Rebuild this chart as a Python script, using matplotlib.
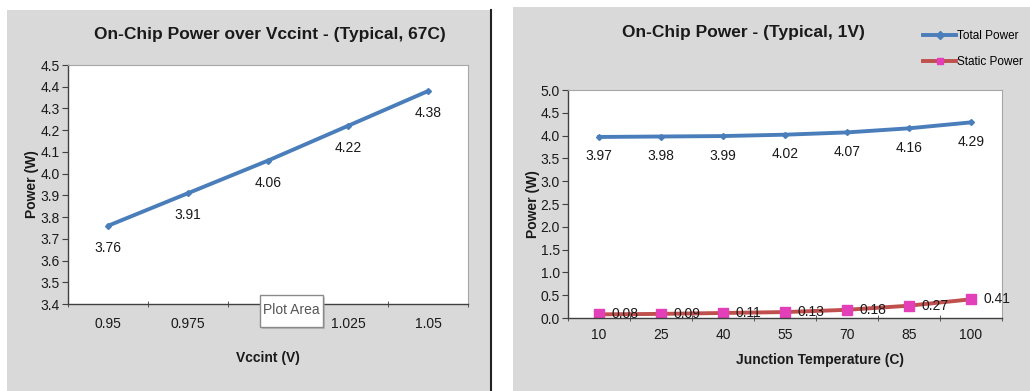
import matplotlib
matplotlib.use("Agg")
import matplotlib.pyplot as plt
from matplotlib import font_manager
from matplotlib.patches import Rectangle
from matplotlib.lines import Line2D
import numpy as np

# ---------------- data ----------------
vccint_labels = ["0.95", "0.975", "1", "1.025", "1.05"]
vccint_power = [3.76, 3.91, 4.06, 4.22, 4.38]

temp_labels = ["10", "25", "40", "55", "70", "85", "100"]
total_power = [3.97, 3.98, 3.99, 4.02, 4.07, 4.16, 4.29]
static_power = [0.08, 0.09, 0.11, 0.13, 0.18, 0.27, 0.41]

left_title = "On-Chip Power over Vccint - (Typical, 67C)"
right_title = "On-Chip Power - (Typical, 1V)"

# ---------------- fonts ----------------
fam = "DejaVu Sans"
for cand in ["Liberation Sans Narrow", "Liberation Sans", "Arial"]:
    try:
        font_manager.findfont(cand, fallback_to_default=False)
        fam = cand
        break
    except Exception:
        pass
plt.rcParams["font.family"] = [fam, "DejaVu Sans"]

BLUE = "#4A7EBB"
RED = "#C0504D"
MAG = "#E23FB8"
GRAY_BG = "#D9D9D9"
TXT = "#1a1a1a"

W, H = 1030, 391
fig = plt.figure(figsize=(W / 100, H / 100), dpi=100)
fig.patch.set_facecolor("white")

def fx(px):
    return px / W

def fy(py):
    return 1 - py / H

# panel backgrounds
fig.patches.append(Rectangle((fx(7), 0), fx(484), fy(10), transform=fig.transFigure,
                             facecolor=GRAY_BG, edgecolor="none", zorder=-10))
fig.patches.append(Rectangle((fx(513), 0), fx(517), fy(7), transform=fig.transFigure,
                             facecolor=GRAY_BG, edgecolor="none", zorder=-10))
fig.lines.append(Line2D([fx(491), fx(491)], [0, fy(10)], transform=fig.transFigure,
                        color="#222222", lw=1.5))


def style_axes(ax, n):
    ax.set_facecolor("white")
    for s in ["top", "right"]:
        ax.spines[s].set_color("#A6A6A6")
        ax.spines[s].set_linewidth(0.8)
    for s in ["left", "bottom"]:
        ax.spines[s].set_color("#404040")
        ax.spines[s].set_linewidth(1.0)
    ax.set_xlim(-0.5, n - 0.5)
    ax.set_xticks(np.arange(n))
    ax.set_xticks(np.arange(n + 1) - 0.5, minor=True)
    ax.tick_params(axis="x", which="major", length=0, labelsize=10, colors=TXT, pad=9)
    ax.tick_params(axis="x", which="minor", length=4, direction="inout", color="#404040")
    ax.tick_params(axis="y", which="major", length=4, direction="out", labelsize=10,
                   colors=TXT, pad=2, color="#404040")


# ---------------- left chart ----------------
axL = fig.add_axes([fx(68), fy(304), fx(400), (304 - 65) / H])
xL = np.arange(len(vccint_power))
axL.plot(xL, vccint_power, color=BLUE, lw=2.8, marker="D", ms=3,
         markerfacecolor=BLUE, markeredgecolor=BLUE, solid_capstyle="round")
style_axes(axL, len(vccint_power))
axL.set_ylim(3.4, 4.5)
ytL = np.round(np.arange(3.4, 4.51, 0.1), 1)
axL.set_yticks(ytL)
axL.set_yticklabels([f"{v:.1f}" for v in ytL])
axL.set_xticklabels(vccint_labels)
for x, v in zip(xL, vccint_power):
    axL.annotate(f"{v:.2f}", (x, v), xytext=(0, -16), textcoords="offset points",
                 ha="center", va="center", fontsize=10, color=TXT)
fig.text(fx(270), fy(35), left_title, ha="center", va="center", fontsize=12.5,
         fontweight="bold", color=TXT)
axL.set_ylabel("Power (W)", fontsize=10, fontweight="bold", color=TXT)
axL.yaxis.set_label_coords((39 - 68) / 400, 0.5)
axL.set_xlabel("Vccint (V)", fontsize=10, fontweight="bold", color=TXT)
axL.xaxis.set_label_coords(0.5, -(351 - 304) / 239)

# "Plot Area" tooltip
fig.patches.append(Rectangle((fx(262), fy(329)), fx(63), 32 / H, transform=fig.transFigure,
                             facecolor="#9A9A9A", edgecolor="none", zorder=4, alpha=0.5))
fig.patches.append(Rectangle((fx(260), fy(327)), fx(63), 32 / H, transform=fig.transFigure,
                             facecolor="white", edgecolor="#8A8A8A", lw=1.0, zorder=5))
fig.text(fx(291.5), fy(310), "Plot Area", ha="center", va="center", fontsize=10,
         color="#555555", zorder=6)

# ---------------- right chart ----------------
axR = fig.add_axes([fx(568), fy(318), fx(434), (318 - 90) / H])
xR = np.arange(len(total_power))
axR.plot(xR, total_power, color=BLUE, lw=2.8, marker="D", ms=3,
         markerfacecolor=BLUE, markeredgecolor=BLUE, label="Total Power")
axR.plot(xR, static_power, color=RED, lw=2.8, marker="s", ms=7,
         markerfacecolor=MAG, markeredgecolor=MAG, label="Static Power")
style_axes(axR, len(total_power))
axR.set_ylim(0, 5.0)
yt = np.round(np.arange(0, 5.01, 0.5), 1)
axR.set_yticks(yt)
axR.set_yticklabels([f"{v:.1f}" for v in yt])
axR.set_xticklabels(temp_labels)
axR.tick_params(axis="x", which="major", pad=7)
for x, v in zip(xR, total_power):
    axR.annotate(f"{v:.2f}", (x, v), xytext=(0, -14), textcoords="offset points",
                 ha="center", va="center", fontsize=10, color=TXT)
for x, v in zip(xR, static_power):
    axR.annotate(f"{v:.2f}", (x, v), xytext=(9, 0), textcoords="offset points",
                 ha="left", va="center", fontsize=10, color=TXT)
fig.text(fx(743), fy(32), right_title, ha="center", va="center", fontsize=12.5,
         fontweight="bold", color=TXT)
axR.set_ylabel("Power (W)", fontsize=10, fontweight="bold", color=TXT)
axR.yaxis.set_label_coords((540 - 568) / 434, 0.5)
axR.set_xlabel("Junction Temperature (C)", fontsize=10, fontweight="bold", color=TXT)
axR.xaxis.set_label_coords(0.58, -(353 - 318) / 228)

leg = axR.legend(loc="upper left", bbox_to_anchor=(fx(923), fy(30)),
                 bbox_transform=fig.transFigure, frameon=False, fontsize=8.5,
                 handlelength=2.8, handletextpad=0.1, labelspacing=1.2,
                 borderaxespad=0, borderpad=0)
for h in leg.legend_handles:
    h.set_markersize(4)

fig.savefig("out.png", dpi=100, facecolor=fig.get_facecolor())
